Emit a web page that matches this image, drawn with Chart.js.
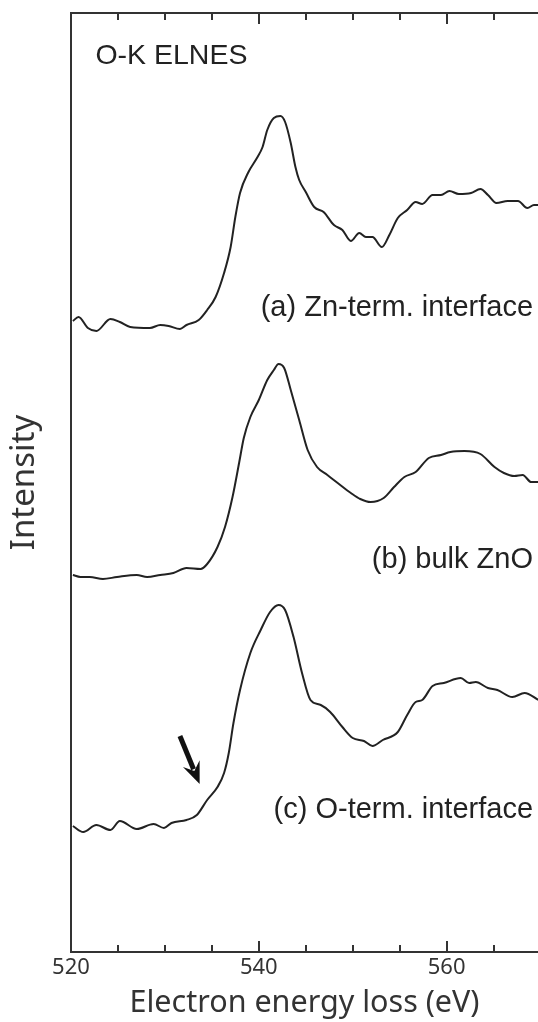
<!DOCTYPE html>
<html>
<head>
<meta charset="utf-8">
<script src="https://cdn.jsdelivr.net/npm/chart.js@4"></script>
<style>
  html, body { margin: 0; padding: 0; background: #fff; overflow: hidden; }
  canvas { display: block; }
</style>
</head>
<body>
<canvas id="c" width="538" height="1022"></canvas>
<script>
// ---- Data (intensity in arbitrary, vertically offset units) ----
const energyA = [520.2,520.8,521.8,522.7,524.2,525.2,526.3,528.4,529.5,530.4,531.6,532.3,533.6,534.5,535.4,536.3,537.0,537.5,538.0,538.9,539.8,540.4,540.9,541.6,542.3,542.8,543.4,543.9,544.3,545.0,545.9,546.9,548.0,548.9,549.8,550.7,551.4,552.1,553.1,553.9,554.8,555.8,556.7,557.4,558.5,559.4,560.3,561.3,562.6,563.6,564.4,565.3,566.5,567.6,568.6,569.3,569.8];
const intensityA = [63.1,63.5,62.4,62.1,63.3,63.0,62.5,62.4,62.7,62.6,62.3,62.7,63.2,64.2,65.5,67.9,70.5,73.5,75.9,78.0,79.4,80.5,82.2,83.4,83.6,83.0,80.9,78.5,77.2,76.0,74.5,74.0,72.7,72.2,71.1,71.9,71.5,71.5,70.5,71.7,73.4,74.2,75.0,74.8,75.7,75.7,76.1,75.8,75.9,76.3,75.7,74.9,75.1,75.1,74.4,74.7,74.7];

const energyB = [520.2,521.0,522.0,523.4,524.9,527.0,528.1,529.5,530.9,532.3,533.8,534.5,535.6,536.4,537.2,537.9,538.4,539.1,540.0,540.9,541.6,542.1,542.7,543.4,544.3,545.2,546.2,547.3,548.4,549.8,550.8,551.9,553.3,554.4,555.5,556.7,558.1,559.4,560.4,561.9,563.6,565.1,566.1,567.2,568.1,569.0,569.8];
const intensityB = [37.7,37.5,37.5,37.3,37.5,37.7,37.5,37.7,37.9,38.4,38.3,38.8,40.5,42.5,45.5,48.9,51.4,53.5,55.2,57.2,58.2,58.8,58.4,56.2,53.2,50.2,48.5,47.7,46.9,45.9,45.3,45.0,45.4,46.5,47.5,48.0,49.4,49.7,50.0,50.1,49.8,48.5,47.9,47.6,47.7,47.0,47.0];

const energyC = [520.2,521.3,522.7,524.2,525.2,527.0,528.8,529.9,530.7,532.3,533.4,534.5,535.6,536.3,536.8,537.3,538.0,539.1,540.2,541.2,542.1,542.8,543.7,544.6,545.5,546.6,547.6,548.9,550.0,551.2,552.1,553.2,554.8,555.8,556.7,557.4,558.5,559.7,561.5,562.4,563.1,564.4,565.4,567.0,568.3,569.8];
const intensityC = [12.6,12.0,12.7,12.2,13.1,12.3,12.8,12.4,12.9,13.2,13.7,15.2,16.5,17.9,19.9,22.9,26.2,29.9,32.2,34.0,34.7,34.2,31.5,27.9,25.2,24.7,24.0,22.5,21.4,21.1,20.6,21.2,22.0,23.7,25.0,25.2,26.6,26.9,27.4,26.9,27.0,26.4,26.2,25.5,25.9,25.2];

const seriesLabels = ['(a) Zn-term. interface', '(b) bulk ZnO', '(c) O-term. interface'];
const labelEnergy = [569.2, 569.2, 569.2];
const labelIntensity = [64.4, 39.2, 14.2];

const panelTitle = 'O-K ELNES';
const panelTitlePos = [522.6, 89.6];

const arrowTail = [531.6, 21.6];
const arrowHead = [533.7, 16.8];

const xTickValues = [520, 525, 530, 535, 540, 545, 550, 555, 560, 565];
const xTickLabels = [520, 540, 560];
const xMin = 520, xMax = 569.73;
const yMin = 0, yMax = 93.9;

// ---- Build ----
function pts(xs, ys) { return xs.map((x, i) => ({ x: x, y: ys[i] })); }

const INK = '#222';
const AXIS = '#333';

const framePlugin = {
  id: 'frame',
  afterDraw(chart) {
    const { ctx, chartArea } = chart;
    const xs = chart.scales.x, ys = chart.scales.y;
    ctx.save();
    // top frame line
    ctx.strokeStyle = AXIS;
    ctx.lineWidth = 2;
    ctx.beginPath();
    ctx.moveTo(chartArea.left - 1, chartArea.top);
    ctx.lineTo(chartArea.right, chartArea.top);
    ctx.stroke();
    // inward ticks top & bottom
    xTickValues.forEach(v => {
      if (v === xMin) return;
      const px = Math.round(xs.getPixelForValue(v));
      const len = xTickLabels.includes(v) ? 11 : 7;
      ctx.beginPath();
      ctx.moveTo(px, chartArea.bottom);
      ctx.lineTo(px, chartArea.bottom - len);
      ctx.moveTo(px, chartArea.top);
      ctx.lineTo(px, chartArea.top + len);
      ctx.stroke();
    });
    // series labels
    ctx.fillStyle = INK;
    ctx.font = '29px "Liberation Sans", Arial, sans-serif';
    ctx.textAlign = 'right';
    ctx.textBaseline = 'middle';
    seriesLabels.forEach((t, i) => {
      ctx.fillText(t, xs.getPixelForValue(labelEnergy[i]), ys.getPixelForValue(labelIntensity[i]));
    });
    // panel title
    ctx.textAlign = 'left';
    ctx.font = '28.5px "Liberation Sans", Arial, sans-serif';
    ctx.fillText(panelTitle, xs.getPixelForValue(panelTitlePos[0]), ys.getPixelForValue(panelTitlePos[1]));
    // arrow
    const tx = xs.getPixelForValue(arrowTail[0]), ty = ys.getPixelForValue(arrowTail[1]);
    const hx = xs.getPixelForValue(arrowHead[0]), hy = ys.getPixelForValue(arrowHead[1]);
    const ang = Math.atan2(hy - ty, hx - tx);
    const headLen = 22, headW = 9;
    const bx = hx - headLen * Math.cos(ang), by = hy - headLen * Math.sin(ang);
    ctx.strokeStyle = '#111';
    ctx.fillStyle = '#111';
    ctx.lineWidth = 5;
    ctx.lineCap = 'butt';
    ctx.beginPath();
    ctx.moveTo(tx, ty);
    ctx.lineTo(bx + 6 * Math.cos(ang), by + 6 * Math.sin(ang));
    ctx.stroke();
    ctx.beginPath();
    ctx.moveTo(hx, hy);
    ctx.lineTo(bx + headW * Math.sin(ang), by - headW * Math.cos(ang));
    ctx.lineTo(bx + 8 * Math.cos(ang), by + 8 * Math.sin(ang));
    ctx.lineTo(bx - headW * Math.sin(ang), by + headW * Math.cos(ang));
    ctx.closePath();
    ctx.fill();
    ctx.restore();
  }
};

const lineStyle = { borderColor: INK, borderWidth: 2, pointRadius: 0, cubicInterpolationMode: 'monotone', fill: false };

new Chart(document.getElementById('c'), {
  type: 'line',
  data: {
    datasets: [
      Object.assign({ label: seriesLabels[0], data: pts(energyA, intensityA) }, lineStyle),
      Object.assign({ label: seriesLabels[1], data: pts(energyB, intensityB) }, lineStyle),
      Object.assign({ label: seriesLabels[2], data: pts(energyC, intensityC) }, lineStyle)
    ]
  },
  options: {
    responsive: false,
    animation: false,
    devicePixelRatio: 1,
    layout: { padding: { top: 13, right: 0, left: 0, bottom: 0 } },
    plugins: { legend: { display: false }, tooltip: { enabled: false } },
    scales: {
      x: {
        type: 'linear',
        min: xMin, max: xMax,
        afterBuildTicks: s => { s.ticks = xTickValues.map(v => ({ value: v })); },
        afterFit: s => { s.height = 70; },
        grid: { display: false, drawTicks: false },
        border: { display: true, color: AXIS, width: 2 },
        ticks: {
          autoSkip: false, maxRotation: 0, padding: 3,
          color: AXIS,
          font: { family: '"Noto Sans", "Open Sans", sans-serif', size: 22 },
          callback: v => xTickLabels.includes(v) ? String(v) : ''
        },
        title: {
          display: true, text: 'Electron energy loss (eV)', color: AXIS,
          font: { family: '"Noto Sans", "Open Sans", sans-serif', size: 30.5 },
          padding: { top: 0, bottom: 0 }
        }
      },
      y: {
        type: 'linear',
        min: yMin, max: yMax,
        afterFit: s => { s.width = 71; },
        grid: { display: false, drawTicks: false },
        border: { display: true, color: AXIS, width: 2 },
        ticks: { display: false },
        title: {
          display: true, text: 'Intensity', color: AXIS,
          font: { family: '"Noto Sans", "Open Sans", sans-serif', size: 33 },
          padding: { top: 5, bottom: 0 }
        }
      }
    }
  },
  plugins: [framePlugin]
});
</script>
</body>
</html>
